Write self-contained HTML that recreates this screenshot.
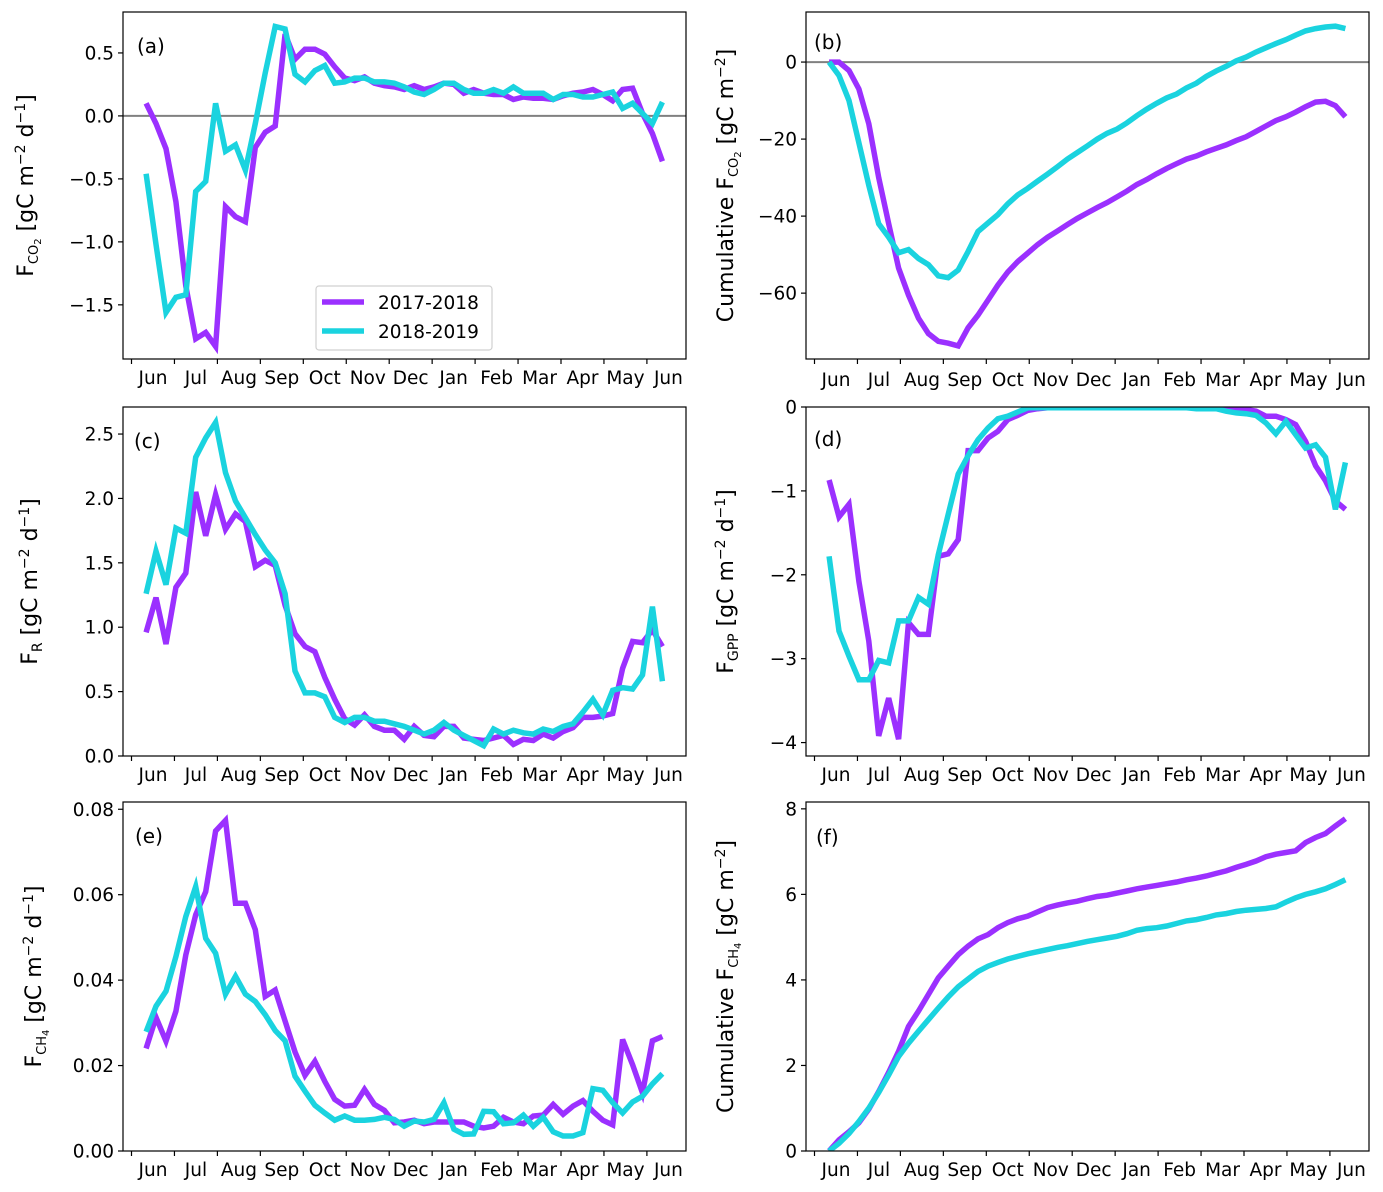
<!DOCTYPE html>
<html><head><meta charset="utf-8">
<style>
html,body{margin:0;padding:0;background:#fff;}
svg{display:block;font-family:"DejaVu Sans","Liberation Sans",sans-serif;}
</style></head>
<body>
<svg id="fig" width="1383" height="1192" viewBox="0 0 1383 1192" xmlns="http://www.w3.org/2000/svg"></svg>
<script>
const months = ["Jun","Jul","Aug","Sep","Oct","Nov","Dec","Jan","Feb","Mar","Apr","May","Jun"];
const nPts = 53;
const xStart = 0.34, xEnd = 12.36;

const aP = [0.10,-0.06,-0.26,-0.68,-1.35,-1.77,-1.72,-1.83,-0.72,-0.80,-0.84,-0.25,-0.13,-0.08,0.65,0.45,0.53,0.53,0.49,0.39,0.30,0.28,0.31,0.26,0.24,0.23,0.21,0.24,0.21,0.23,0.26,0.25,0.18,0.21,0.18,0.17,0.17,0.13,0.15,0.14,0.14,0.13,0.16,0.18,0.19,0.21,0.17,0.12,0.21,0.22,0.02,-0.14,-0.36];
const aC = [-0.46,-1.02,-1.56,-1.44,-1.42,-0.60,-0.52,0.10,-0.28,-0.23,-0.43,-0.06,0.34,0.71,0.69,0.33,0.27,0.36,0.40,0.26,0.27,0.30,0.30,0.27,0.27,0.26,0.23,0.19,0.17,0.21,0.26,0.26,0.21,0.18,0.18,0.21,0.18,0.23,0.18,0.18,0.18,0.13,0.17,0.17,0.15,0.15,0.17,0.19,0.06,0.10,0.02,-0.06,0.11];
const bP = [0,0,-2.2,-7,-16,-30,-42,-53.5,-60.5,-66.5,-70.5,-72.5,-73,-73.7,-69,-65.7,-61.8,-57.9,-54.5,-51.8,-49.6,-47.4,-45.5,-43.9,-42.2,-40.6,-39.2,-37.8,-36.5,-35,-33.5,-31.8,-30.5,-29,-27.6,-26.4,-25.2,-24.4,-23.3,-22.4,-21.5,-20.4,-19.4,-18,-16.6,-15.2,-14.2,-13,-11.6,-10.4,-10.2,-11.3,-14.2];
const bC = [0,-3.5,-10,-21,-32,-42,-45.5,-49.5,-48.7,-51,-52.6,-55.5,-56,-54,-49.2,-44,-41.8,-39.6,-36.8,-34.5,-32.8,-30.9,-29.1,-27.2,-25.2,-23.5,-21.8,-20,-18.5,-17.4,-15.8,-13.9,-12.2,-10.7,-9.3,-8.3,-6.7,-5.5,-3.7,-2.3,-1.1,0.3,1.3,2.6,3.7,4.8,5.8,7,8.1,8.7,9.1,9.3,8.7];
const cP = [0.96,1.23,0.87,1.31,1.42,2.05,1.71,2.03,1.76,1.88,1.82,1.47,1.52,1.48,1.17,0.95,0.85,0.81,0.61,0.44,0.29,0.24,0.32,0.23,0.20,0.20,0.13,0.23,0.16,0.15,0.23,0.23,0.14,0.13,0.12,0.14,0.16,0.09,0.13,0.12,0.17,0.14,0.19,0.22,0.30,0.30,0.31,0.33,0.68,0.89,0.88,0.98,0.85];
const cC = [1.26,1.59,1.33,1.77,1.73,2.32,2.47,2.59,2.20,1.98,1.85,1.72,1.60,1.50,1.26,0.66,0.49,0.49,0.46,0.30,0.26,0.30,0.30,0.27,0.27,0.25,0.23,0.20,0.17,0.20,0.26,0.20,0.16,0.12,0.08,0.21,0.17,0.20,0.18,0.17,0.21,0.19,0.23,0.25,0.34,0.44,0.32,0.51,0.53,0.52,0.63,1.16,0.58];
const dP = [-0.87,-1.31,-1.16,-2.08,-2.79,-3.92,-3.47,-3.96,-2.57,-2.71,-2.71,-1.78,-1.75,-1.58,-0.52,-0.52,-0.37,-0.29,-0.15,-0.10,-0.04,-0.02,-0.01,-0.01,-0.01,-0.01,-0.01,-0.01,-0.01,-0.01,-0.01,-0.01,-0.01,-0.01,-0.01,-0.01,-0.01,-0.01,-0.01,-0.01,-0.01,-0.02,-0.03,-0.05,-0.11,-0.11,-0.15,-0.21,-0.41,-0.70,-0.88,-1.12,-1.22];
const dC = [-1.78,-2.67,-2.97,-3.25,-3.25,-3.02,-3.05,-2.55,-2.55,-2.27,-2.35,-1.76,-1.28,-0.80,-0.58,-0.39,-0.25,-0.14,-0.11,-0.06,-0.01,-0.01,-0.01,-0.01,-0.01,-0.01,-0.01,-0.01,-0.01,-0.01,-0.01,-0.01,-0.01,-0.01,-0.01,-0.01,-0.01,-0.02,-0.02,-0.02,-0.05,-0.07,-0.08,-0.10,-0.19,-0.32,-0.17,-0.33,-0.49,-0.45,-0.60,-1.22,-0.66];
const eP = [0.0240,0.0313,0.0257,0.0327,0.0459,0.0553,0.0607,0.0749,0.0774,0.0580,0.0580,0.0518,0.0362,0.0377,0.0304,0.0232,0.0177,0.0210,0.0163,0.0121,0.0105,0.0107,0.0144,0.0109,0.0095,0.0066,0.0068,0.0072,0.0064,0.0068,0.0068,0.0068,0.0068,0.0058,0.0054,0.0058,0.0079,0.0068,0.0064,0.0082,0.0084,0.0109,0.0086,0.0105,0.0118,0.0093,0.0072,0.0061,0.0261,0.0202,0.0136,0.0258,0.0268];
const eC = [0.0279,0.0339,0.0374,0.0455,0.0549,0.0619,0.0498,0.0463,0.0367,0.0409,0.0367,0.0350,0.0319,0.0282,0.0258,0.0175,0.0140,0.0107,0.0089,0.0072,0.0082,0.0072,0.0072,0.0074,0.0079,0.0074,0.0058,0.0070,0.0068,0.0074,0.0113,0.0051,0.0039,0.0040,0.0093,0.0092,0.0064,0.0066,0.0084,0.0058,0.0079,0.0045,0.0035,0.0035,0.0043,0.0146,0.0142,0.0113,0.0089,0.0115,0.0128,0.0157,0.0181];
const fP = [0,0.26,0.45,0.66,0.98,1.39,1.84,2.33,2.91,3.27,3.66,4.05,4.32,4.59,4.79,4.96,5.06,5.22,5.34,5.43,5.49,5.59,5.69,5.75,5.80,5.84,5.90,5.95,5.98,6.03,6.08,6.13,6.17,6.21,6.25,6.29,6.34,6.38,6.43,6.49,6.55,6.63,6.70,6.78,6.88,6.94,6.98,7.02,7.21,7.33,7.42,7.60,7.77];
const fC = [0,0.18,0.41,0.69,1.0,1.37,1.78,2.21,2.52,2.80,3.07,3.34,3.60,3.84,4.02,4.20,4.32,4.41,4.49,4.55,4.61,4.66,4.71,4.76,4.80,4.85,4.90,4.94,4.98,5.02,5.08,5.16,5.20,5.22,5.26,5.32,5.38,5.41,5.46,5.52,5.55,5.60,5.63,5.65,5.67,5.71,5.82,5.92,6.00,6.06,6.13,6.23,6.34];

const aTicks = [0.5,0.0,-0.5,-1.0,-1.5];
const bTicks = [0,-20,-40,-60];
const cTicks = [0.0,0.5,1.0,1.5,2.0,2.5];
const dTicks = [0,-1,-2,-3,-4];
const eTicks = [0.00,0.02,0.04,0.06,0.08];
const fTicks = [0,2,4,6,8];

const PURPLE = "#9b30ff", CYAN = "#1ad3df";
const NS = "http://www.w3.org/2000/svg";
const svg = document.getElementById("fig");
function mk(tag, attrs, parent){
  const e = document.createElementNS(NS, tag);
  for (const k in attrs) e.setAttribute(k, attrs[k]);
  (parent||svg).appendChild(e);
  return e;
}
function fmt(v, dec){ const s = Math.abs(v).toFixed(dec); return (v < 0 && Number(s) !== 0 ? "\u2212" : "") + s; }

function panel(cfg){
  const g = mk("g", {});
  
  
  const L = cfg.L, R = cfg.R, T = cfg.T, B = cfg.B;
  const xs = m => L + 8.5 + m * 42.95;
  const ys = v => B - (v - cfg.ymin) / (cfg.ymax - cfg.ymin) * (B - T);
  if (cfg.zero){
    const z = mk("line", {x1:L, x2:R, y1:ys(0), y2:ys(0), stroke:"#808080", "stroke-width":2}, g);
    
    
  }
  const series = [[cfg.p, PURPLE, "2017-2018"], [cfg.c, CYAN, "2018-2019"]];
  const clipId = "clip" + cfg.id;
  const cp = mk("clipPath", {id: clipId}, g);
  mk("rect", {x:L, y:T, width:R-L, height:B-T}, cp);
  series.forEach(([arr, col, nm]) => {
    const step = (xEnd - xStart) / (arr.length - 1);
    const pts = arr.map((v, i) => xs(xStart + i * step).toFixed(1) + "," + ys(v).toFixed(1)).join(" ");
    const pl = mk("polyline", {points: pts, fill:"none", stroke: col, "stroke-width":5.5, "stroke-linejoin":"miter", "clip-path":"url(#"+clipId+")"}, g);
    
    
  });
  const fr = mk("rect", {x:L, y:T, width:R-L, height:B-T, fill:"none", stroke:"#000", "stroke-width":1.2}, g);
  
  
  months.forEach((m, i) => {
    const x = xs(i);
    mk("line", {x1:x, x2:x, y1:B, y2:B+5, stroke:"#000", "stroke-width":1.2}, g);
    const t = mk("text", {x: x + 21.5, y: B + cfg.xlab, "text-anchor":"middle", "font-size":18.5, fill:"#000"}, g);
    t.textContent = m;
    
    
  });
  cfg.ticks.forEach(v => {
    const y = ys(v);
    mk("line", {x1:L-5, x2:L, y1:y, y2:y, stroke:"#000", "stroke-width":1.2}, g);
    const t = mk("text", {x: L - 9, y: y + 6.5, "text-anchor":"end", "font-size":18.5, fill:"#000"}, g);
    t.textContent = fmt(v, cfg.dec);
    
    
  });
  const pt = mk("text", {x: cfg.lx, y: cfg.ly, "font-size":20, fill:"#000"}, g);
  pt.textContent = "(" + cfg.id + ")";
  
  
  const yt = mk("text", {transform:"translate(" + cfg.yx + "," + ((T+B)/2) + ") rotate(-90)", "text-anchor":"middle", "font-size":22, fill:"#000"}, g);
  
  
  cfg.title.forEach(([txt, shift, size]) => {
    const ts = mk("tspan", {}, yt);
    if (shift) ts.setAttribute("dy", shift);
    if (size) ts.setAttribute("font-size", size);
    ts.textContent = txt;
  });
  return {xs, ys, g};
}

panel({id:"a", L:123, R:686, T:12, B:359, ymin:-1.93, ymax:0.825, ticks:aTicks, dec:1, p:aP, c:aC, zero:true, xlab:25, lx:137, ly:53, yx:33,
  title:[["F",0],["CO",5,13],["2",3,10],[" [gC m",-8,22],["−2",-8,14],[" d",8,22],["−1",-8,14],["]",8,22]]});
panel({id:"b", L:806, R:1369, T:12, B:359, ymin:-77.1, ymax:13, ticks:bTicks, dec:0, p:bP, c:bC, zero:true, xlab:27, lx:814, ly:49, yx:733,
  title:[["Cumulative F",0],["CO",5,13],["2",3,10],[" [gC m",-8,22],["−2",-8,14],["]",8,22]]});
panel({id:"c", L:123, R:686, T:407, B:756, ymin:0, ymax:2.71, ticks:cTicks, dec:1, p:cP, c:cC, zero:false, xlab:25, lx:134, ly:448, yx:37,
  title:[["F",0],["R",5,14],[" [gC m",-5,22],["−2",-8,14],[" d",8,22],["−1",-8,14],["]",8,22]]});
panel({id:"d", L:806, R:1369, T:407, B:756, ymin:-4.16, ymax:0, ticks:dTicks, dec:0, p:dP, c:dC, zero:false, xlab:25, lx:814, ly:446, yx:733,
  title:[["F",0],["GPP",5,14],[" [gC m",-5,22],["−2",-8,14],[" d",8,22],["−1",-8,14],["]",8,22]]});
panel({id:"e", L:123, R:686, T:802, B:1151, ymin:0, ymax:0.0817, ticks:eTicks, dec:2, p:eP, c:eC, zero:false, xlab:25, lx:135, ly:843, yx:41,
  title:[["F",0],["CH",5,13],["4",3,10],[" [gC m",-8,22],["−2",-8,14],[" d",8,22],["−1",-8,14],["]",8,22]]});
panel({id:"f", L:806, R:1369, T:802, B:1151, ymin:0, ymax:8.16, ticks:fTicks, dec:0, p:fP, c:fC, zero:false, xlab:25, lx:816, ly:844, yx:733,
  title:[["Cumulative F",0],["CH",5,13],["4",3,10],[" [gC m",-8,22],["−2",-8,14],["]",8,22]]});

const lg = mk("g", {});


mk("rect", {x:316, y:286, width:176, height:64, rx:3, fill:"#fff", "fill-opacity":0.85, stroke:"#d0d0d0", "stroke-width":1.2}, lg);
[["2017-2018", PURPLE, 302], ["2018-2019", CYAN, 331]].forEach(([nm, col, y]) => {
  const e = mk("g", {}, lg);
  
  
  mk("line", {x1:322, x2:364, y1:y, y2:y, stroke:col, "stroke-width":5.5}, e);
  const t = mk("text", {x:378, y:y+7, "font-size":18.5, fill:"#000"}, e);
  t.textContent = nm;
});
</script>
</body></html>
